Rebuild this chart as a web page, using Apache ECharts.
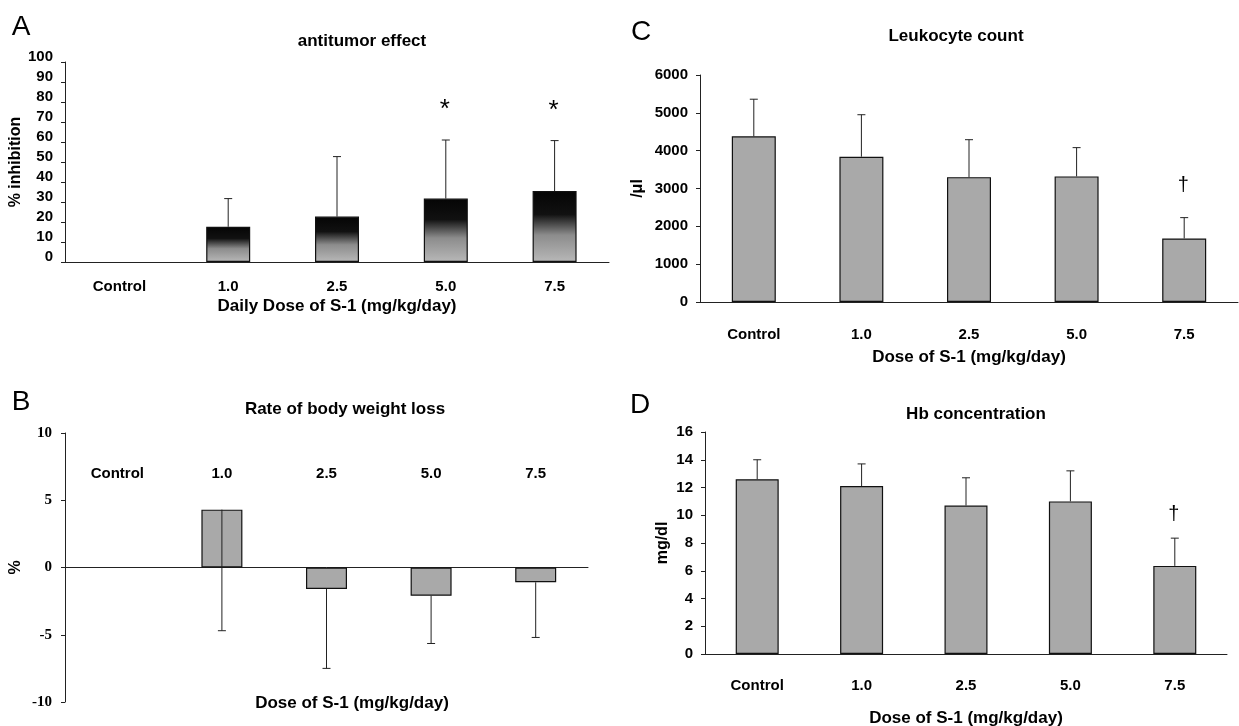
<!DOCTYPE html>
<html>
<head>
<meta charset="utf-8">
<script src="https://cdn.jsdelivr.net/npm/echarts@6/dist/echarts.min.js"></script>
<style>
html, body { margin: 0; padding: 0; background: #fff; }
#main { width: 1239px; height: 726px; }
</style>
</head>
<body>
<div id="main"></div>
<script>
var doses = ['Control', '1.0', '2.5', '5.0', '7.5']

// A: antitumor effect (% inhibition)
var inhibitionMean = [null, 17.6, 22.7, 31.7, 35.5]
var inhibitionSD = [null, 14.1, 30.0, 29.3, 25.2]
var inhibitionSig = ['', '', '', '*', '*']

// B: rate of body weight loss (%), SD drawn downward
var weightMean = [null, 4.3, -1.6, -2.1, -1.1]
var weightSD = [null, 9.0, 5.9, 3.55, 4.1]

// C: leukocyte count (/μl)
var leukoMean = [4380, 3840, 3300, 3320, 1680]
var leukoSD = [980, 1110, 990, 760, 550]
var leukoSig = ['', '', '', '', '†']

// D: Hb concentration (mg/dl)
var hbMean = [12.6, 12.1, 10.7, 11.0, 6.35]
var hbSD = [1.4, 1.6, 2.0, 2.2, 2.0]
var hbSig = ['', '', '', '', '†']

var font = '"Liberation Sans", Arial, sans-serif'
var lineColor = '#222'

function errData (mean, sd, dir) {
  return mean
    .map(function (m, i) { return m == null ? null : [i, m, m + dir * sd[i]] })
    .filter(function (d) { return d })
}

function errSeries (idx, data, sig, gap, sigSize) {
  return {
    type: 'custom',
    xAxisIndex: idx,
    yAxisIndex: idx,
    z: 5,
    silent: true,
    data: data,
    renderItem: function (params, api) {
      var i = api.value(0)
      var p0 = api.coord([i, api.value(1)])
      var p1 = api.coord([i, api.value(2)])
      var children = [
        { type: 'line', shape: { x1: p0[0], y1: p0[1], x2: p1[0], y2: p1[1] }, style: { stroke: lineColor, lineWidth: 1 } },
        { type: 'line', shape: { x1: p1[0] - 4, y1: p1[1], x2: p1[0] + 4, y2: p1[1] }, style: { stroke: lineColor, lineWidth: 1 } }
      ]
      if (sig && sig[i]) {
        children.push({
          type: 'text',
          x: p1[0] - 1,
          y: p1[1] - gap,
          style: { text: sig[i], fontSize: sigSize, fontFamily: font, fill: '#000', align: 'center', verticalAlign: 'middle' }
        })
      }
      return { type: 'group', children: children }
    }
  }
}

function plainNum (v) {
  return String(v)
}

var tickLabel = { fontSize: 15, fontWeight: 'bold', color: '#000', fontFamily: font }

function xCat (idx, opts) {
  return Object.assign({
    gridIndex: idx,
    type: 'category',
    data: doses,
    axisLine: { lineStyle: { color: lineColor, width: 1 } },
    axisTick: { inside: true, length: 6, lineStyle: { color: lineColor } },
    axisLabel: Object.assign({ margin: 17 }, tickLabel),
    nameLocation: 'middle',
    nameTextStyle: { fontSize: 17, fontWeight: 'bold', color: '#000', fontFamily: font }
  }, opts)
}

function yVal (idx, opts) {
  return Object.assign({
    gridIndex: idx,
    type: 'value',
    axisLine: { show: true, lineStyle: { color: lineColor, width: 1 } },
    axisTick: { show: true, length: 4, lineStyle: { color: lineColor } },
    splitLine: { show: false },
    axisLabel: Object.assign({ margin: 12, formatter: plainNum }, tickLabel),
    nameLocation: 'middle',
    nameTextStyle: { fontSize: 16, fontWeight: 'bold', color: '#000', fontFamily: font }
  }, opts)
}

var grayBar = { color: '#a9a9a9', borderColor: '#111', borderWidth: 1.2 }
var darkBar = {
  color: new echarts.graphic.LinearGradient(0, 0, 0, 1, [
    { offset: 0, color: '#050505' },
    { offset: 0.33, color: '#111111' },
    { offset: 0.62, color: '#8c8c8c' },
    { offset: 1, color: '#b8b8b8' }
  ]),
  borderColor: '#111',
  borderWidth: 1.2
}

function label (text, x, y, size, weight) {
  return {
    type: 'text',
    x: x,
    y: y,
    style: { text: text, fontSize: size, fontWeight: weight, fontFamily: font, fill: '#000', align: 'center', verticalAlign: 'middle' }
  }
}

var myChart = echarts.init(document.getElementById('main'))
myChart.setOption({
  animation: false,
  backgroundColor: '#fff',
  graphic: [
    label('A', 21, 27, 28, 'normal'),
    label('B', 21, 402, 28, 'normal'),
    label('C', 641, 32, 28, 'normal'),
    label('D', 640, 405, 28, 'normal'),
    label('antitumor effect', 362, 41, 17, 'bold'),
    label('Rate of body weight loss', 345, 409, 17, 'bold'),
    label('Leukocyte count', 956, 36, 17, 'bold'),
    label('Hb concentration', 976, 414, 17, 'bold'),
    label('Dose of S-1 (mg/kg/day)', 352, 703, 17, 'bold')
  ],
  grid: [
    { left: 65, top: 62, width: 544, height: 200, outerBoundsMode: 'none' },
    { left: 65, top: 433, width: 523, height: 269, outerBoundsMode: 'none' },
    { left: 700, top: 75, width: 538, height: 227, outerBoundsMode: 'none' },
    { left: 705, top: 432, width: 522, height: 222, outerBoundsMode: 'none' }
  ],
  xAxis: [
    xCat(0, { name: 'Daily Dose of S-1 (mg/kg/day)', nameGap: 36 }),
    xCat(1, { axisLabel: { show: false } }),
    xCat(2, { name: 'Dose of S-1 (mg/kg/day)', nameGap: 47, axisLabel: Object.assign({ margin: 25 }, tickLabel) }),
    xCat(3, { name: 'Dose of S-1 (mg/kg/day)', nameGap: 56, axisLabel: Object.assign({ margin: 24 }, tickLabel) }),
    // dose labels of panel B sit in the upper part of the plot
    {
      gridIndex: 1,
      type: 'category',
      data: doses,
      position: 'bottom',
      offset: -236,
      axisLine: { show: false, onZero: false },
      axisTick: { show: false },
      axisLabel: Object.assign({ margin: 0 }, tickLabel)
    }
  ],
  yAxis: [
    yVal(0, {
      min: 0, max: 100, interval: 10,
      name: '% inhibition', nameGap: 41,
      axisLabel: Object.assign({ margin: 12, verticalAlign: 'bottom', lineHeight: 11 }, tickLabel)
    }),
    yVal(1, {
      min: -10, max: 10, interval: 5,
      name: '%', nameGap: 41,
      axisLabel: Object.assign({}, tickLabel, { margin: 13, fontFamily: '"Liberation Serif", "Times New Roman", serif' })
    }),
    yVal(2, { min: 0, max: 6000, interval: 1000, name: '/μl', nameGap: 54 }),
    yVal(3, { min: 0, max: 16, interval: 2, name: 'mg/dl', nameGap: 34 })
  ],
  series: [
    { type: 'bar', xAxisIndex: 0, yAxisIndex: 0, data: inhibitionMean, barWidth: 44, itemStyle: darkBar },
    errSeries(0, errData(inhibitionMean, inhibitionSD, 1), inhibitionSig, 30, 26),
    { type: 'bar', xAxisIndex: 1, yAxisIndex: 1, data: weightMean, barWidth: 41, itemStyle: grayBar },
    errSeries(1, errData(weightMean, weightSD, -1), null, 0, 0),
    { type: 'bar', xAxisIndex: 2, yAxisIndex: 2, data: leukoMean, barWidth: 44, itemStyle: grayBar },
    errSeries(2, errData(leukoMean, leukoSD, 1), leukoSig, 32, 20),
    { type: 'bar', xAxisIndex: 3, yAxisIndex: 3, data: hbMean, barWidth: 43, itemStyle: grayBar },
    errSeries(3, errData(hbMean, hbSD, 1), hbSig, 24, 20)
  ]
})

window.onresize = function () {
  myChart.resize()
}
</script>
</body>
</html>
